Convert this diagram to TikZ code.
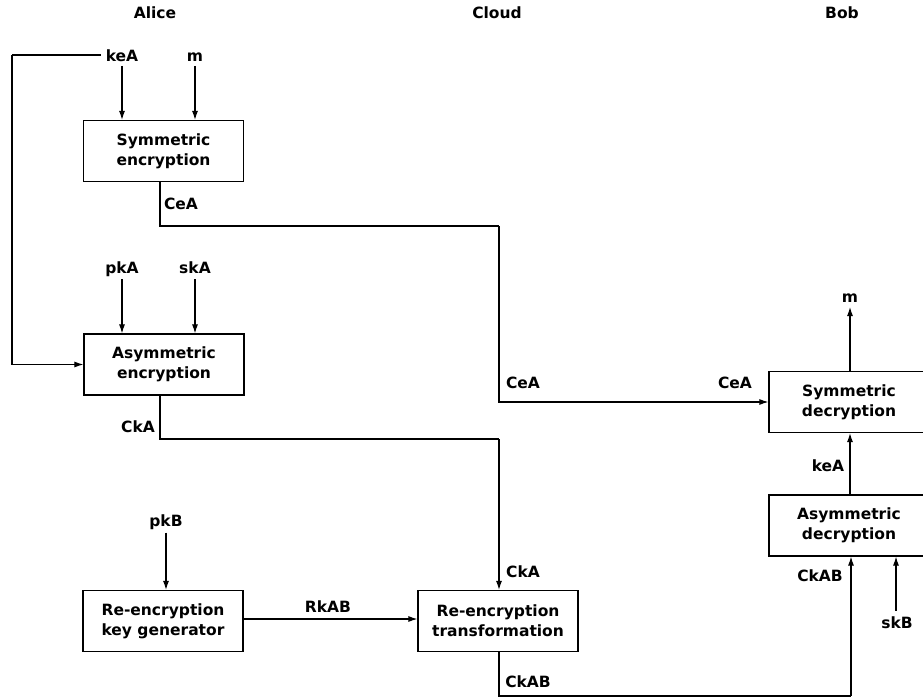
\documentclass[tikz,border=0pt]{standalone}
\usepackage{fontspec}
\setmainfont{DejaVu Sans}
\usetikzlibrary{arrows.meta}
\begin{document}
\begin{tikzpicture}[x=1pt,y=-1pt,
  every node/.style={font=\fontsize{15.5}{20}\selectfont\bfseries, text=black, inner sep=0pt},
  blk/.style={draw, line width=1.2pt, minimum width=160pt, minimum height=61pt, align=center},
  inlab/.style={anchor=base},
  conn/.style={line width=1.1pt},
  arr/.style={line width=1.1pt, -{Latex[length=9pt,width=6pt]}}]
\useasboundingbox (0,0) rectangle (923,698);
\clip (0,0) rectangle (923,698);
\fill[white] (0,0) rectangle (923,698);
% headings
\node (alice) at (155,13) {Alice};
\node (cloud) at (497,13) {Cloud};
\node (bob) at (842,13) {Bob};
% boxes
\node[blk] (se) at (163.5,151) {Symmetric\\encryption};
\node[blk] (ae) at (164,364.5) {Asymmetric\\encryption};
\node[blk] (kg) at (163,621) {Re-encryption\\key generator};
\node[blk] (rt) at (498,621) {Re-encryption\\transformation};
\node[blk] (sd) at (849,402) {Symmetric\\decryption};
\node[blk] (ad) at (849,525.5) {Asymmetric\\decryption};
% inputs
\node[inlab] (keA1) at (122,61.5) {keA};
\node[inlab] (m1) at (195,61.5) {m};
\node[inlab] (pkA) at (122,273.5) {pkA};
\node[inlab] (skA) at (195,273.5) {skA};
\node[inlab] (pkB) at (166,526.5) {pkB};
\node[inlab] (skB) at (897,628.5) {skB};
\node[inlab] (m2) at (850,302) {m};
% edge labels
\node (lCeA1) at (181,204) {CeA};
\node (lCeA2) at (523,383) {CeA};
\node (lCeA3) at (735,383) {CeA};
\node (lCkA1) at (138,427) {CkA};
\node (lCkA2) at (523,572) {CkA};
\node (lRkAB) at (328,607) {RkAB};
\node (lCkAB1) at (528,682) {CkAB};
\node (lCkAB2) at (820,576) {CkAB};
\node (lkeA2) at (828,466) {keA};
% corner coordinates
\coordinate (c0) at (12,55);
\coordinate (c1) at (499,226);
\coordinate (c2) at (499,439);
\coordinate (c3) at (851,696);
% connectors
\draw[conn] (c0 -| keA1.west) ++(-5pt,0) -- (c0);
\draw[arr] (c0) |- (ae.west);
\draw[arr] ([yshift=-4.5pt]keA1.base) -- (keA1.base |- se.north);
\draw[arr] ([yshift=-4.5pt]m1.base) -- (m1.base |- se.north);
\draw[arr] ([yshift=-5.5pt]pkA.base) -- (pkA.base |- ae.north);
\draw[arr] ([yshift=-5.5pt]skA.base) -- (skA.base |- ae.north);
\draw[arr] ([yshift=-6pt]pkB.base) -- (pkB.base |- kg.north);
\draw[conn] ([xshift=-3.5pt]se.south) |- (c1);
\draw[arr] (c1) |- (sd.west);
\draw[conn] ([xshift=-4pt]ae.south) |- (c2);
\draw[arr] (c2) -- (c2 |- rt.north);
\draw[arr] ([yshift=2pt]kg.east) -- ([yshift=2pt]rt.west);
\draw[conn] ([xshift=1pt]rt.south) |- (c3);
\draw[arr] (c3) -- (c3 |- ad.south);
\draw[arr] ([yshift=18pt,xshift=-1pt]skB.base) -- ([xshift=-1pt]skB.base |- ad.south);
\draw[arr] ([xshift=1pt]ad.north) -- ([xshift=1pt]sd.south);
\draw[arr] ([xshift=1pt]sd.north) -- ([yshift=-5pt]m2.base);
\end{tikzpicture}
\end{document}
